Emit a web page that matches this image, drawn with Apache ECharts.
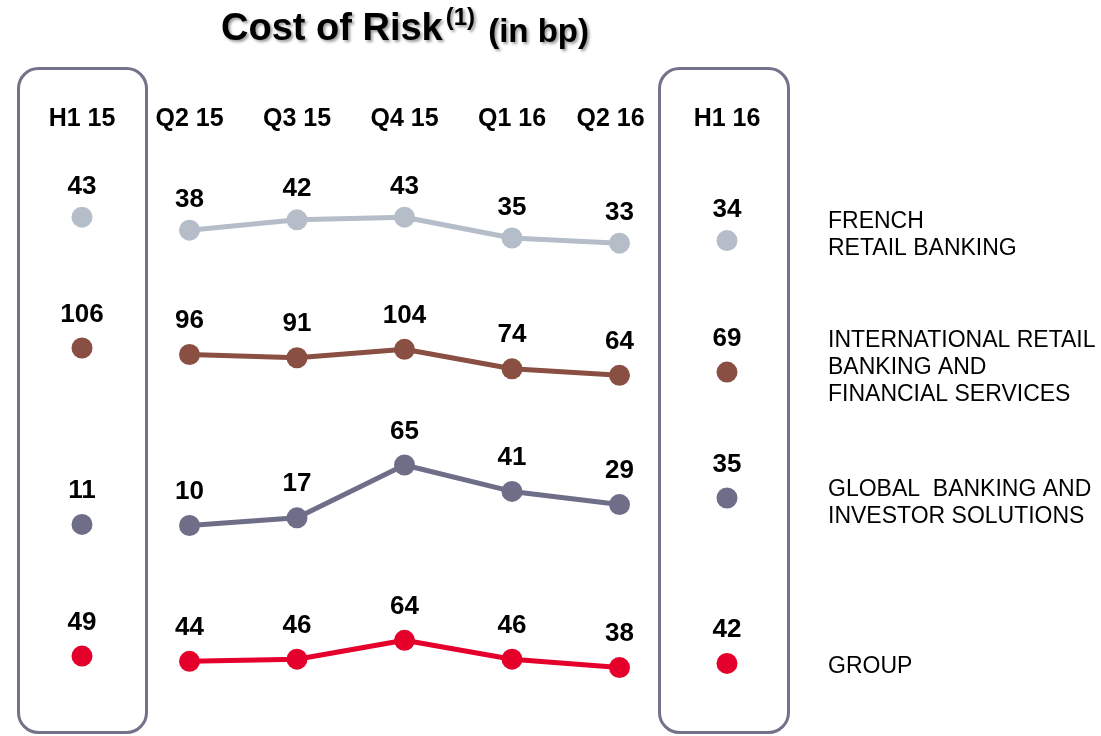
<!DOCTYPE html>
<html><head><meta charset="utf-8">
<script src="https://cdn.jsdelivr.net/npm/echarts@6/dist/echarts.min.js"></script>
<style>html,body{margin:0;padding:0;background:#fff}#c{width:1101px;height:736px}</style>
</head><body><div id="c"></div>
<script>
const categories = ['H1 15', 'Q2 15', 'Q3 15', 'Q4 15', 'Q1 16', 'Q2 16', 'H1 16'];
const frenchRetail = [43, 38, 42, 43, 35, 33, 34];
const intlRetail = [106, 96, 91, 104, 74, 64, 69];
const globalBanking = [11, 10, 17, 65, 41, 29, 35];
const group = [49, 44, 46, 64, 46, 38, 42];
const segmentNames = [
  'FRENCH\nRETAIL BANKING',
  'INTERNATIONAL RETAIL\nBANKING AND\nFINANCIAL SERVICES',
  'GLOBAL  BANKING AND\nINVESTOR SOLUTIONS',
  'GROUP'
];

const FONT = '"Liberation Sans", Arial, Helvetica, sans-serif';
const segs = [
  {vals: frenchRetail, color: '#B4BDC8', top: 199, height: 78, min: 20, max: 50, dist: 7, legendTop: 208},
  {vals: intlRetail, color: '#8A4F43', top: 345.4, height: 32.5, min: 60, max: 110, dist: 10, legendTop: 327},
  {vals: globalBanking, color: '#6E6E88', top: 459.5, height: 77, min: 0, max: 70, dist: 10, legendTop: 476},
  {vals: group, color: '#E4002B', top: 634, height: 42, min: 30, max: 70, dist: 10, legendTop: 653}
];

const grids = [], xAxes = [], yAxes = [], series = [];
segs.forEach((s, i) => {
  grids.push({left: 28.25, width: 752.5, top: s.top, height: s.height});
  xAxes.push({
    type: 'category', gridIndex: i, data: categories, boundaryGap: true,
    position: 'top', axisLine: {show: false}, axisTick: {show: false}, splitLine: {show: false},
    axisLabel: i === 0 ? {
      show: true, interval: 0, hideOverlap: false, margin: 67, color: '#000', fontFamily: FONT, fontWeight: 'bold', fontSize: 25,
      formatter: (v) => v === 'Q2 16' ? '{r|' + v + '}' : v,
      rich: {r: {color: '#000', fontFamily: FONT, fontWeight: 'bold', fontSize: 25, padding: [0, 18, 0, 0]}}
    } : {show: false}
  });
  yAxes.push({type: 'value', gridIndex: i, min: s.min, max: s.max, show: false});
  const label = {show: true, position: 'top', distance: s.dist, color: '#000', opacity: 1, fontFamily: FONT, fontWeight: 'bold', fontSize: 26};
  const lineData = s.vals.map((v, k) => (k === 0 || k === s.vals.length - 1) ? '-' : v);
  const dotData = s.vals.map((v, k) => (k === 0 || k === s.vals.length - 1) ? v : '-');
  series.push({
    type: 'line', xAxisIndex: i, yAxisIndex: i, data: lineData, symbol: 'circle', symbolSize: 21,
    showAllSymbol: true, connectNulls: false, lineStyle: {color: s.color, width: 5},
    itemStyle: {color: s.color, opacity: 1}, label: label, silent: true, animation: false
  });
  series.push({
    type: 'scatter', xAxisIndex: i, yAxisIndex: i, data: dotData, symbol: 'circle', symbolSize: 21,
    itemStyle: {color: s.color, opacity: 1}, label: label, silent: true, animation: false
  });
});

const graphics = [
  {type: 'rect', shape: {x: 18.5, y: 68.5, width: 128, height: 664, r: 20}, style: {fill: 'none', stroke: '#72728A', lineWidth: 3}},
  {type: 'rect', shape: {x: 659.5, y: 68.5, width: 129, height: 664, r: 20}, style: {fill: 'none', stroke: '#72728A', lineWidth: 3}}
];
segs.forEach((s, i) => {
  graphics.push({type: 'text', left: 828, top: s.legendTop,
    style: {text: segmentNames[i], fill: '#000', font: '23px ' + FONT, lineHeight: 27}});
});

const shadow = {textShadowColor: 'rgba(0,0,0,0.4)', textShadowBlur: 3, textShadowOffsetX: 2, textShadowOffsetY: 2};
const chart = echarts.init(document.getElementById('c'), null, {renderer: 'canvas'});
chart.setOption({
  animation: false,
  backgroundColor: '#fff',
  title: {
    text: '{a|Cost of Risk}{s|(1)}{b| (in bp)}',
    left: 405, top: 5, textAlign: 'center', padding: 0,
    textStyle: Object.assign({
      fontFamily: FONT, fontWeight: 'bold', color: '#000',
      rich: {
        a: Object.assign({fontSize: 38, fontWeight: 'bold', fontFamily: FONT, lineHeight: 44, verticalAlign: 'bottom'}, shadow),
        s: Object.assign({fontSize: 24, fontWeight: 'bold', fontFamily: FONT, lineHeight: 26, verticalAlign: 'top', padding: [1, 0, 0, 3]}, shadow),
        b: Object.assign({fontSize: 33, fontWeight: 'bold', fontFamily: FONT, lineHeight: 42, verticalAlign: 'bottom', padding: [0, 0, 0, 4]}, shadow)
      }
    }, shadow)
  },
  grid: grids, xAxis: xAxes, yAxis: yAxes, series: series, graphic: graphics
});
</script></body></html>
